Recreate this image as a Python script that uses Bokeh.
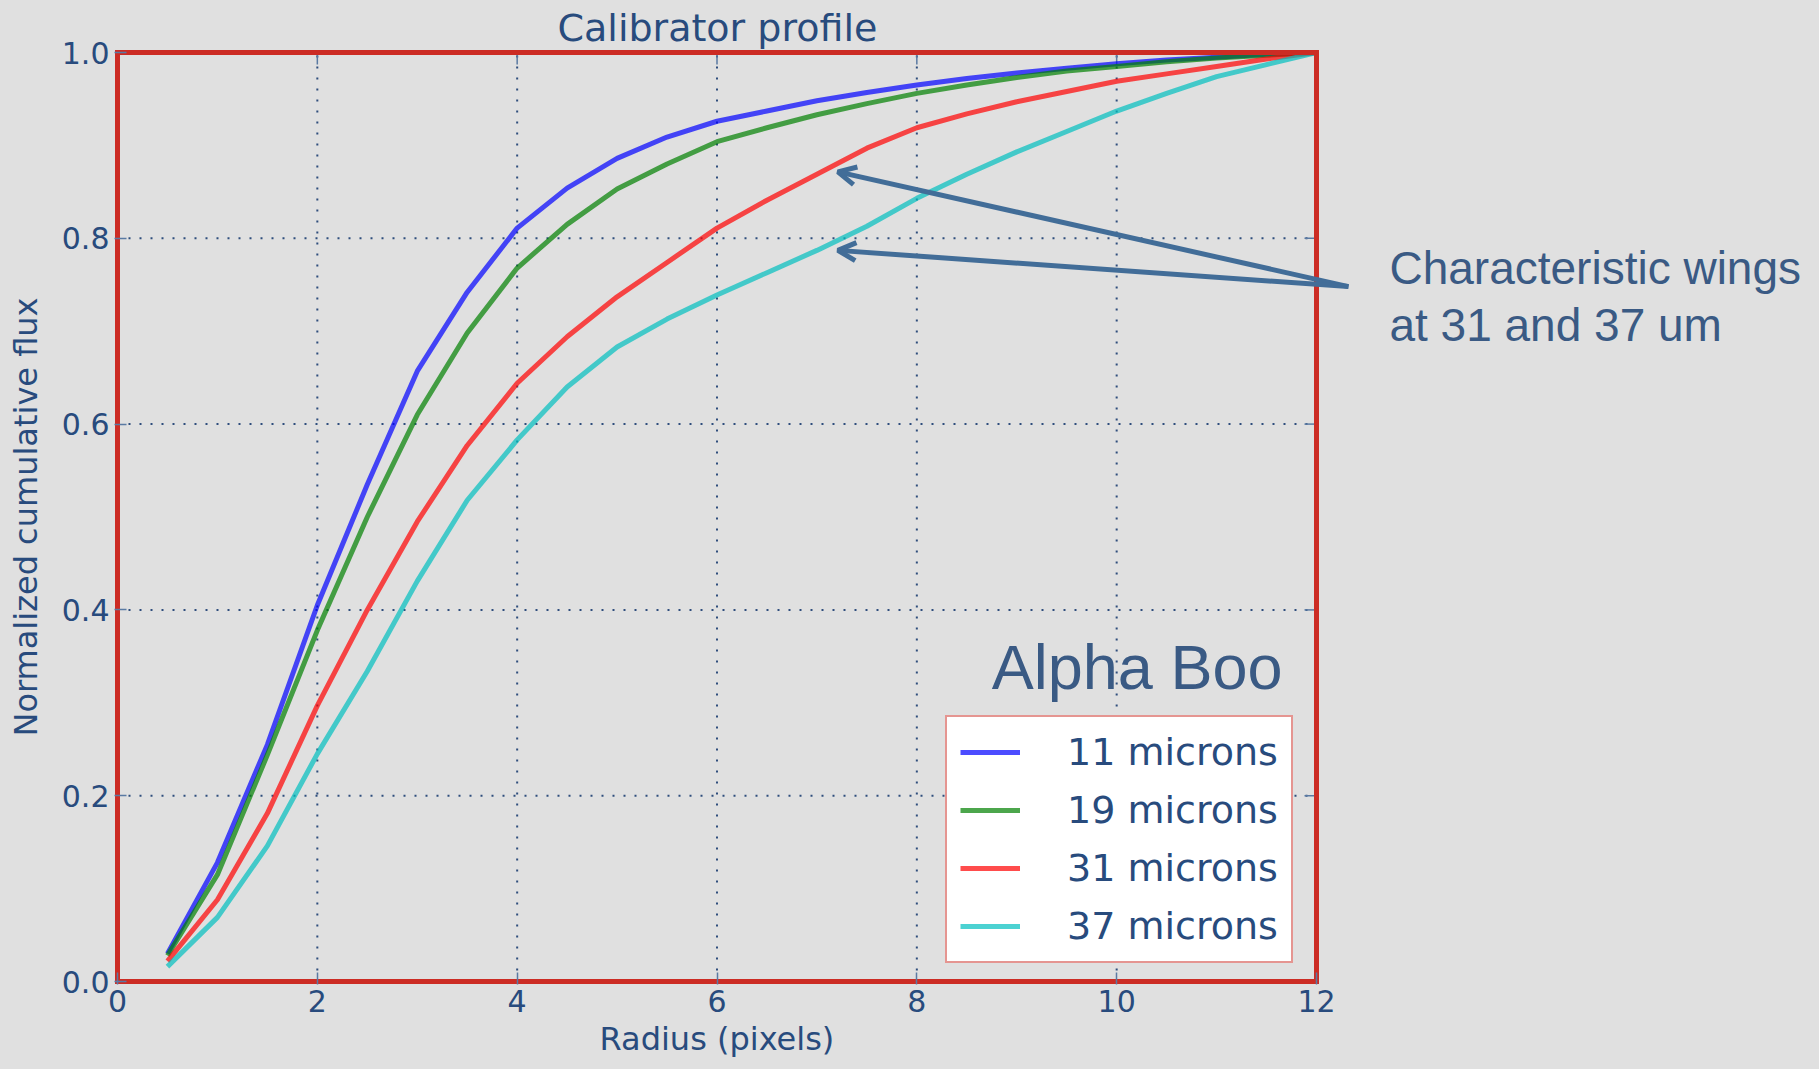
from bokeh.plotting import figure
from bokeh.models import (Legend, LegendItem, Label, Arrow, OpenHead, Range1d, Title,
                          FixedTicker, NumeralTickFormatter)
from bokeh.embed import file_html
from bokeh.resources import INLINE

# Aperture radius (pixels) and normalized cumulative flux per wavelength
radius = [0.5, 1.0, 1.5, 2.0, 2.5, 3.0, 3.5, 4.0, 4.5, 5.0, 5.5, 6.0,
          6.5, 7.0, 7.5, 8.0, 8.5, 9.0, 9.5, 10.0, 10.5, 11.0, 11.5, 12.0]
flux_11 = [0.030, 0.128, 0.255, 0.405, 0.535, 0.657, 0.742, 0.811, 0.854, 0.886, 0.909, 0.926,
           0.937, 0.948, 0.957, 0.965, 0.972, 0.978, 0.983, 0.988, 0.992, 0.995, 0.998, 1.000]
flux_19 = [0.028, 0.115, 0.244, 0.378, 0.500, 0.610, 0.698, 0.768, 0.815, 0.853, 0.880, 0.904,
           0.919, 0.933, 0.945, 0.956, 0.965, 0.973, 0.980, 0.985, 0.990, 0.994, 0.997, 1.000]
flux_31 = [0.022, 0.088, 0.181, 0.297, 0.400, 0.495, 0.577, 0.644, 0.694, 0.737, 0.774, 0.811,
           0.841, 0.869, 0.897, 0.919, 0.934, 0.947, 0.958, 0.969, 0.977, 0.985, 0.993, 1.000]
flux_37 = [0.016, 0.069, 0.146, 0.245, 0.334, 0.431, 0.518, 0.583, 0.640, 0.683, 0.713, 0.739,
           0.763, 0.787, 0.813, 0.843, 0.869, 0.893, 0.915, 0.937, 0.956, 0.974, 0.987, 1.000]
series_labels = ["11 microns", "19 microns", "31 microns", "37 microns"]
series_colors = ["#0000ff", "#008000", "#ff0000", "#00bfbf"]
x_ticks = [0, 2, 4, 6, 8, 10, 12]
y_ticks = [0.0, 0.2, 0.4, 0.6, 0.8, 1.0]
X_MAX, Y_MAX = 12, 1.0

BG = "#e0e0e0"
FRAME = "#cc2c24"
TEXT = "#284b7d"
NOTE = "#3a5a84"
ARROW = "#426d98"
GRID = "#2e4d7c"
TICK = "#5a7aa3"
FONT = "DejaVu Sans"

# pixel geometry of the axes box; the drawing area runs on to the right edge
# so that the callout text and arrows can sit beside the axes box
W, H = 1819, 1069
BOX_L, BOX_R, BOX_T, BOX_B = 117, 1316, 52, 981
PAD = 3
ppx = (BOX_R - BOX_L) / X_MAX
ppy = (BOX_B - BOX_T) / Y_MAX

p = figure(width=W, height=H,
           x_range=Range1d(-PAD / ppx, X_MAX + (W - BOX_R) / ppx),
           y_range=Range1d(-PAD / ppy, Y_MAX + PAD / ppy),
           output_backend="svg", toolbar_location=None,
           min_border_left=BOX_L - PAD, min_border_right=0,
           min_border_top=BOX_T - PAD, min_border_bottom=H - BOX_B - PAD,
           background_fill_color=BG, border_fill_color=BG)
p.styles = {"background-color": BG}
p.outline_line_color = None
p.grid.visible = False

# title, centred over the axes box
p.title.text = "Calibrator profile"
p.title.text_font = FONT
p.title.text_font_size = "38px"
p.title.text_font_style = "normal"
p.title.text_color = TEXT
p.title.align = "left"
p.title.offset = 443
p.title.standoff = 0

p.xaxis.ticker = FixedTicker(ticks=x_ticks)
p.yaxis.ticker = FixedTicker(ticks=y_ticks)
p.yaxis.formatter = NumeralTickFormatter(format="0.0")
for ax in (p.xaxis[0], p.yaxis[0]):
    ax.axis_line_color = None
    ax.major_tick_in = 12
    ax.major_tick_out = 0
    ax.major_tick_line_color = TICK
    ax.major_tick_line_width = 1.5
    ax.minor_tick_line_color = None
    ax.major_label_text_font = FONT
    ax.major_label_text_font_size = "30px"
    ax.major_label_text_color = TEXT
    ax.axis_label_text_font = FONT
    ax.axis_label_text_font_size = "32px"
    ax.axis_label_text_font_style = "normal"
    ax.axis_label_text_color = TEXT

p.yaxis.axis_label = "Normalized cumulative flux"
p.xaxis.major_label_standoff = 5
p.yaxis.major_label_standoff = 5
p.yaxis.axis_label_standoff = 14

# x axis caption, centred under the axes box
p.add_layout(Title(text="Radius (pixels)", text_font=FONT, text_font_size="32px",
                   text_font_style="normal", text_color=TEXT, align="left",
                   offset=485, standoff=6), "below")

# dotted grid, kept inside the axes box
inner_x = x_ticks[1:-1]
inner_y = y_ticks[1:-1]
p.segment(x0=inner_x, x1=inner_x, y0=[0] * len(inner_x), y1=[Y_MAX] * len(inner_x),
          line_color=GRID, line_width=2, line_dash="2 9")
p.segment(x0=[0] * len(inner_y), x1=[X_MAX] * len(inner_y), y0=inner_y, y1=inner_y,
          line_color=GRID, line_width=2, line_dash="2 9")

# inward tick marks on the top and right sides
tick_dx = 12 / ppx
tick_dy = 12 / ppy
p.segment(x0=x_ticks, x1=x_ticks, y0=[Y_MAX] * len(x_ticks), y1=[Y_MAX - tick_dy] * len(x_ticks),
          line_color=TICK, line_width=1.5)
p.segment(x0=[X_MAX] * len(y_ticks), x1=[X_MAX - tick_dx] * len(y_ticks), y0=y_ticks, y1=y_ticks,
          line_color=TICK, line_width=1.5)

renderers = []
for ys, col in zip([flux_11, flux_19, flux_31, flux_37], series_colors):
    r = p.line(radius, ys, line_color=col, line_width=5, line_alpha=0.7)
    renderers.append(r)

# red axes box
p.quad(left=[0], right=[X_MAX], bottom=[0], top=[Y_MAX], fill_alpha=0,
       line_color=FRAME, line_width=5, line_join="miter")

legend = Legend(items=[LegendItem(label=lab, renderers=[r]) for lab, r in zip(series_labels, renderers)],
                location=(828 + PAD, 18 + PAD))
legend.border_line_color = FRAME
legend.border_line_width = 2.5
legend.background_fill_color = "white"
legend.background_fill_alpha = 1.0
legend.label_text_font = FONT
legend.label_text_font_size = "38px"
legend.label_text_color = TEXT
legend.glyph_width = 60
legend.glyph_height = 40
legend.label_height = 40
legend.spacing = 14
legend.padding = 13
legend.label_standoff = 47
legend.margin = 0
p.add_layout(legend, "center")

p.add_layout(Label(x=8.75, y=0.338, text="Alpha Boo", text_align="left", text_baseline="alphabetic",
                   text_font="Liberation Sans", text_font_size="63px", text_color=NOTE))

for yy, line in zip([0.768, 0.707], ["Characteristic wings", "at 31 and 37 um"]):
    p.add_layout(Label(x=12.73, y=yy, text=line, text_align="left", text_baseline="alphabetic",
                       text_font="Liberation Sans", text_font_size="46px", text_color=NOTE))

for ye in (0.8715, 0.787):
    p.add_layout(Arrow(end=OpenHead(size=18, line_width=5, line_color=ARROW),
                       x_start=12.32, y_start=0.748, x_end=7.21, y_end=ye,
                       line_width=5, line_color=ARROW))

open("out.html", "w").write(file_html(p, INLINE))
